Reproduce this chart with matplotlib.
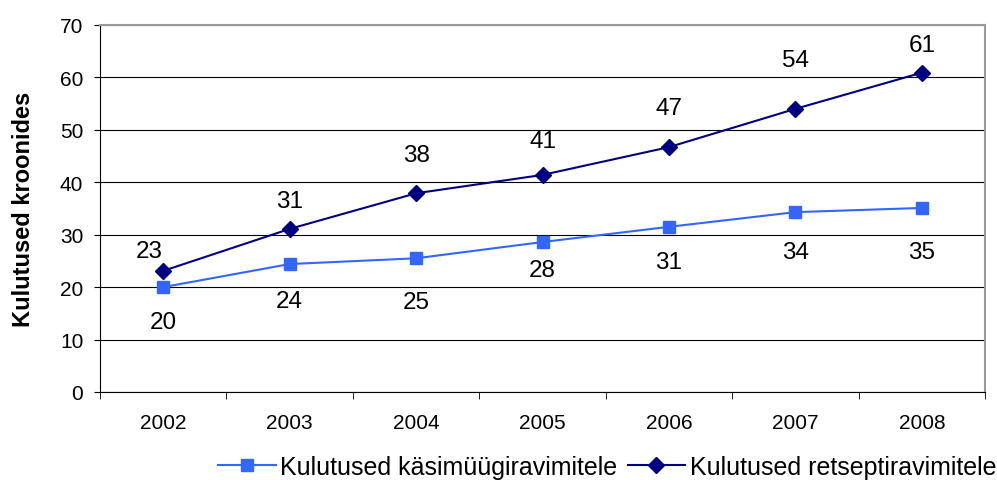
import numpy as np
import matplotlib.pyplot as plt

plt.rcParams['font.family'] = ['Liberation Sans', 'DejaVu Sans']

# Data
years = ['2002', '2003', '2004', '2005', '2006', '2007', '2008']
otc = [20.0, 24.4, 25.5, 28.6, 31.5, 34.3, 35.1]
rx = [23.1, 31.1, 37.9, 41.4, 46.7, 54.0, 60.9]
otc_labels = ['20', '24', '25', '28', '31', '34', '35']
rx_labels = ['23', '31', '38', '41', '47', '54', '61']

# label offsets in pixels (hand-placed in the original)
rx_dy = [20, 28, 38, 34, 39, 49, 28]
rx_dx = [-14, 0, 0, 0, 0, 0, 0]
otc_dy = [35, 37, 44, 28, 35, 40, 44]

fig = plt.figure(figsize=(9.97, 4.81), dpi=100)
ax = fig.add_axes([0.1003, 0.183, 0.8877, 0.763])

x = np.arange(len(years))
ax.plot(x, otc, color='#3366FF', marker='s', markersize=8.2, linewidth=1.5,
        label='Kulutused käsimüügiravimitele', zorder=3)
ax.plot(x, rx, color='#000080', marker='D', markersize=8, linewidth=1.5,
        label='Kulutused retseptiravimitele', zorder=3)

# Value labels
px = 0.72  # points per pixel at 100 dpi
for i in range(len(years)):
    ax.annotate(rx_labels[i], (x[i], rx[i]), xytext=(rx_dx[i] * px, rx_dy[i] * px),
                textcoords='offset points', ha='center', va='center', fontsize=17.5)
    ax.annotate(otc_labels[i], (x[i], otc[i]), xytext=(0, -otc_dy[i] * px),
                textcoords='offset points', ha='center', va='center', fontsize=17.5)

ax.set_xlim(-0.5, len(years) - 0.5)
ax.set_ylim(0, 70)
ax.set_yticks(np.arange(0, 71, 10))
ax.set_xticks(x)
ax.set_xticklabels(years, fontsize=15)
ax.set_xticks(np.arange(-0.5, len(years), 1), minor=True)
ax.tick_params(axis='x', which='major', length=0, pad=15)
ax.tick_params(axis='x', which='minor', length=5, direction='out')
ax.tick_params(axis='y', labelsize=15, length=4, direction='out', pad=8)

ax.grid(axis='y', color='black', linewidth=0.8)
ax.set_axisbelow(True)
for s in ['top', 'right']:
    ax.spines[s].set_color('#999999')
    ax.spines[s].set_linewidth(1.5)
for s in ['left', 'bottom']:
    ax.spines[s].set_color('black')

ax.set_ylabel('Kulutused kroonides', fontsize=17, fontweight='bold', labelpad=18)

fig.legend(loc='center left', bbox_to_anchor=(218 / 997, 1 - 468 / 481), ncol=2,
           frameon=False, fontsize=18, handlelength=2.3, columnspacing=0.4,
           handletextpad=0.2, borderpad=0, borderaxespad=0)

fig.savefig('out.png', dpi=100)
